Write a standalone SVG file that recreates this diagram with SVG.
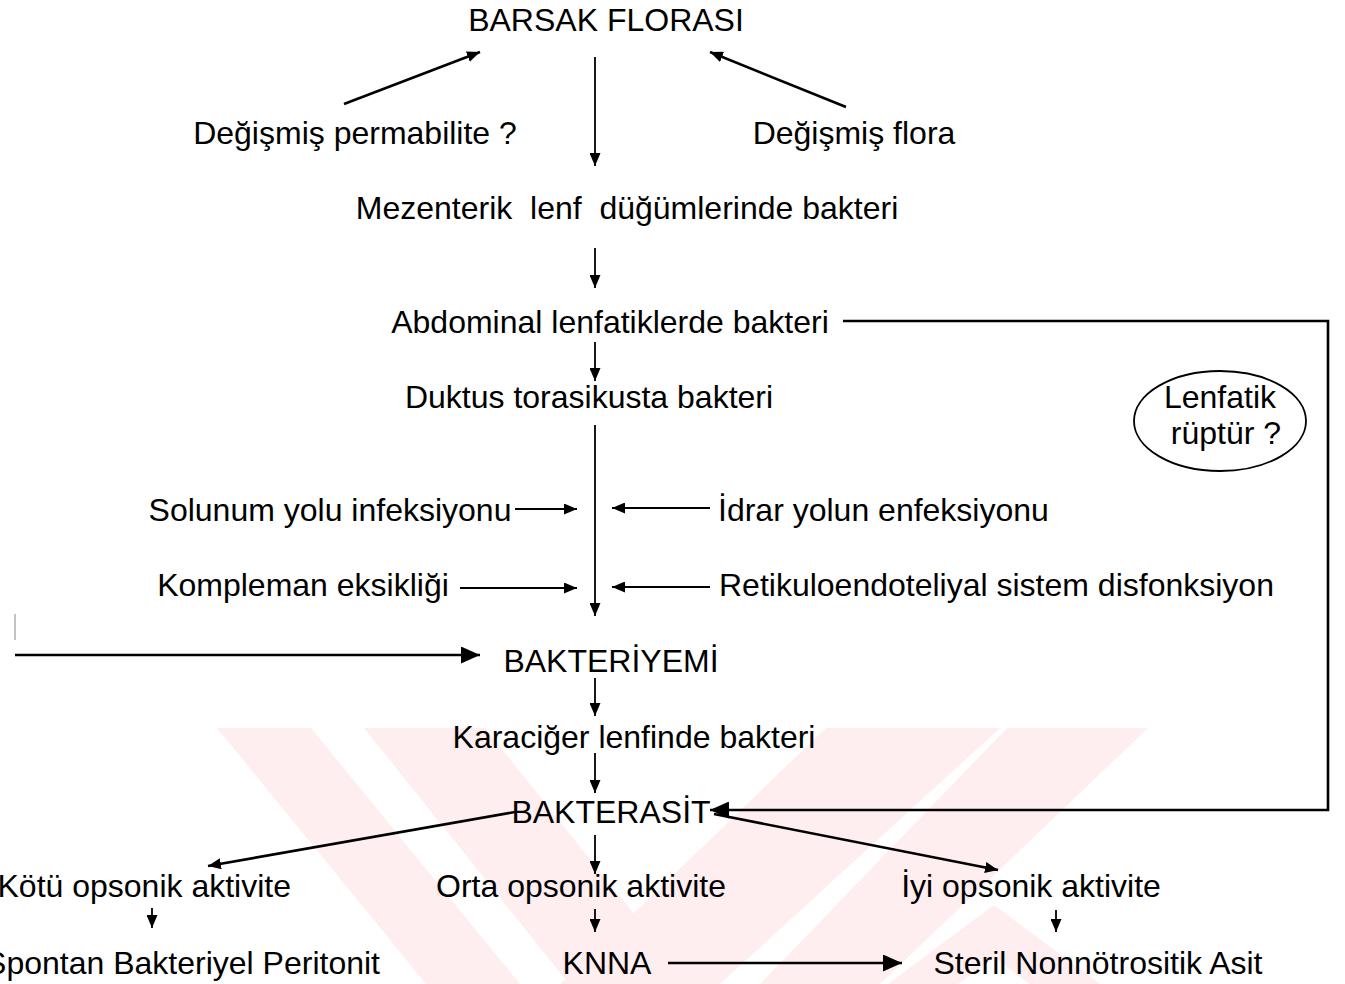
<svg xmlns="http://www.w3.org/2000/svg" width="1345" height="984" viewBox="0 0 1345 984">
<style>
text{font-family:"Liberation Sans",Arial,sans-serif;font-size:32px;fill:#000}
.c{text-anchor:middle}
.e{text-anchor:end}
.ln{stroke:#000;stroke-width:1.8;fill:none}
.lt{stroke:#000;stroke-width:2.6;fill:none}
.wm{fill:#feeef0}
</style>
<defs>
<marker id="ah" markerUnits="userSpaceOnUse" markerWidth="13" markerHeight="11" refX="13" refY="5.5" orient="auto"><path d="M0,0 L13,5.5 L0,11 z" fill="#000"/></marker>
<marker id="ahL" markerUnits="userSpaceOnUse" markerWidth="19" markerHeight="17" refX="19" refY="8.5" orient="auto"><path d="M0,0 L19,8.5 L0,17 z" fill="#000"/></marker>
</defs>
<rect width="1345" height="984" fill="#fff"/>
<g id="watermark">
<polygon class="wm" points="217,728 311,728 520,984 426,984"/>
<polygon class="wm" points="364,728 485,728 690,984 569,984"/>
<polygon class="wm" points="826,728 1000,728 720,984 560,984"/>
<polygon class="wm" points="1007,728 1148,728 880,984 760,984"/>
<polygon class="wm" points="994,905 1100,984 1030,984 994,958 958,984 888,984"/>
</g>
<g id="connectors">
<line class="lt" x1="344" y1="104" x2="480" y2="52" marker-end="url(#ah)"/>
<line class="lt" x1="846" y1="107" x2="710" y2="52" marker-end="url(#ah)"/>
<line class="ln" x1="595" y1="57" x2="595" y2="166" marker-end="url(#ah)"/>
<line class="ln" x1="595" y1="248" x2="595" y2="288" marker-end="url(#ah)"/>
<line class="ln" x1="595" y1="342" x2="595" y2="381" marker-end="url(#ah)"/>
<line class="ln" x1="595" y1="425" x2="595" y2="616" marker-end="url(#ah)"/>
<line class="ln" x1="515" y1="509" x2="577" y2="509" marker-end="url(#ah)"/>
<line class="ln" x1="460" y1="588" x2="577" y2="588" marker-end="url(#ah)"/>
<line class="ln" x1="710" y1="508" x2="612" y2="508" marker-end="url(#ah)"/>
<line class="ln" x1="710" y1="587" x2="612" y2="587" marker-end="url(#ah)"/>
<line x1="15" y1="614" x2="15" y2="640" stroke="#b0b0b0" stroke-width="1.5"/>
<line class="lt" x1="15" y1="655" x2="480" y2="655" marker-end="url(#ahL)"/>
<line class="ln" x1="595" y1="678" x2="595" y2="716" marker-end="url(#ah)"/>
<line class="ln" x1="595" y1="753" x2="595" y2="793" marker-end="url(#ah)"/>
<polyline class="lt" points="843,321 1328,321 1328,810 710,810" marker-end="url(#ahL)"/>
<line class="lt" x1="515" y1="812" x2="208" y2="866" marker-end="url(#ah)"/>
<line class="lt" x1="714" y1="814" x2="998" y2="870" marker-end="url(#ah)"/>
<line class="ln" x1="595" y1="835" x2="595" y2="874" marker-end="url(#ah)"/>
<line class="ln" x1="152" y1="908" x2="152" y2="928" marker-end="url(#ah)"/>
<line class="ln" x1="595" y1="909" x2="595" y2="932" marker-end="url(#ah)"/>
<line class="ln" x1="1056" y1="910" x2="1056" y2="932" marker-end="url(#ah)"/>
<line class="lt" x1="668" y1="963" x2="902" y2="963" marker-end="url(#ahL)"/>
</g>
<g id="n-barsak"><text x="606" y="31" class="c">BARSAK FLORASI</text></g>
<g id="n-perm"><text x="355" y="144" class="c">Değişmiş permabilite ?</text></g>
<g id="n-flora"><text x="854" y="144" class="c">Değişmiş flora</text></g>
<g id="n-mezenterik"><text x="627" y="219" class="c" xml:space="preserve">Mezenterik  lenf  düğümlerinde bakteri</text></g>
<g id="n-abdominal"><text x="610" y="333" class="c">Abdominal lenfatiklerde bakteri</text></g>
<g id="n-duktus"><text x="589" y="408" class="c">Duktus torasikusta bakteri</text></g>
<g id="n-lenfatik">
<ellipse cx="1220" cy="421" rx="86" ry="50" fill="none" stroke="#000" stroke-width="1.8"/>
<text x="1220" y="408" class="c">Lenfatik</text>
<text x="1226" y="444" class="c">rüptür ?</text>
</g>
<g id="n-solunum"><text x="330" y="521" class="c">Solunum yolu infeksiyonu</text></g>
<g id="n-idrar"><text x="718" y="521">İdrar yolun enfeksiyonu</text></g>
<g id="n-kompleman"><text x="303" y="596" class="c">Kompleman eksikliği</text></g>
<g id="n-retikulo"><text x="719" y="596">Retikuloendoteliyal sistem disfonksiyon</text></g>
<g id="n-bakteriyemi"><text x="611" y="672" class="c">BAKTERİYEMİ</text></g>
<g id="n-karaciger"><text x="634" y="748" class="c">Karaciğer lenfinde bakteri</text></g>
<g id="n-bakterasit"><text x="611" y="823" class="c">BAKTERASİT</text></g>
<g id="n-kotu"><text x="291" y="897" class="e">Kötü opsonik aktivite</text></g>
<g id="n-orta"><text x="581" y="897" class="c">Orta opsonik aktivite</text></g>
<g id="n-iyi"><text x="1031" y="897" class="c">İyi opsonik aktivite</text></g>
<g id="n-sbp"><text x="380" y="974" class="e">Spontan Bakteriyel Peritonit</text></g>
<g id="n-knna"><text x="607" y="974" class="c">KNNA</text></g>
<g id="n-steril"><text x="1098" y="974" class="c">Steril Nonnötrositik Asit</text></g>
</svg>
